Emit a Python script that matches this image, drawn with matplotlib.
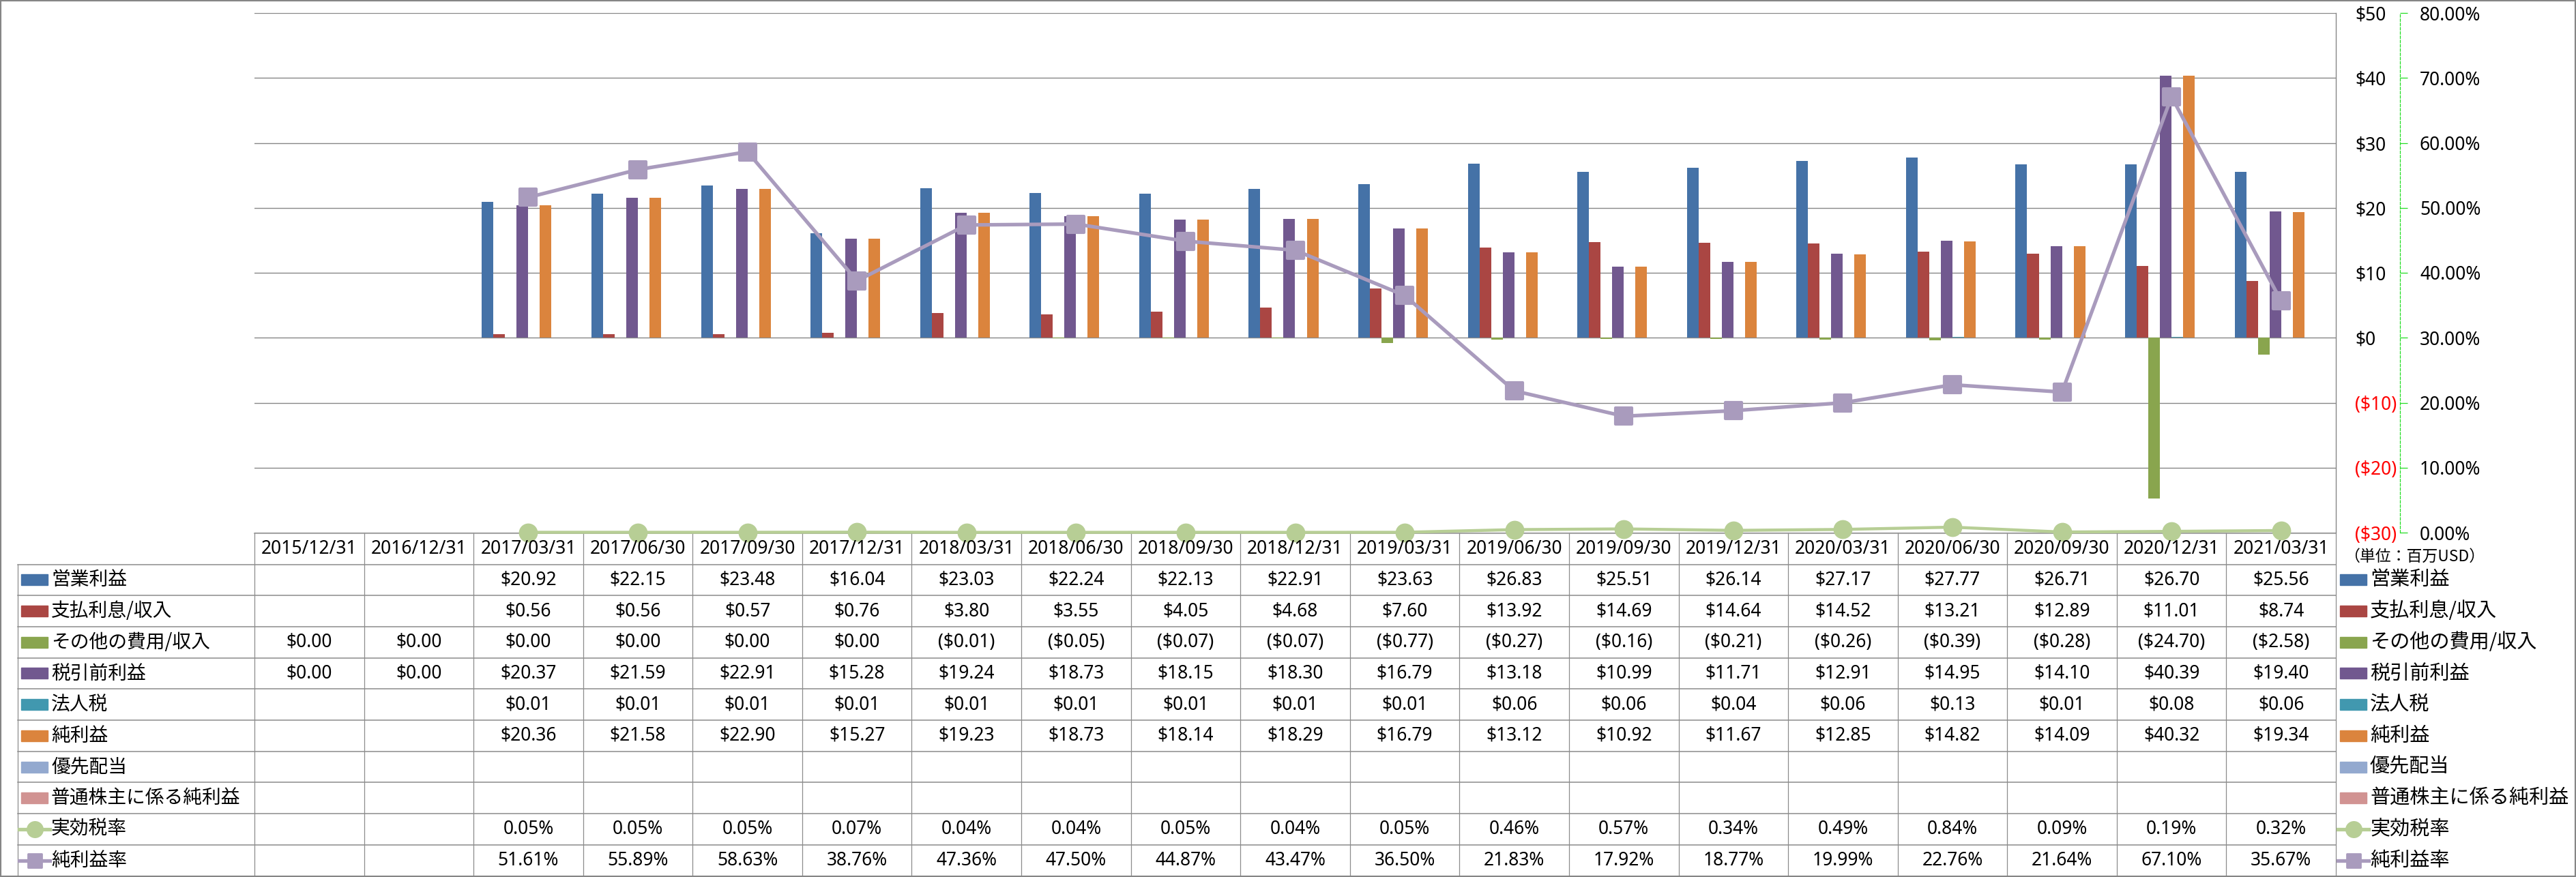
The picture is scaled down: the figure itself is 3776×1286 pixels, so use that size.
import numpy as np
import matplotlib.pyplot as plt
from matplotlib.lines import Line2D
from matplotlib.markers import MarkerStyle
from matplotlib.patches import Rectangle
from matplotlib.transforms import blended_transform_factory

plt.rcParams['font.family'] = ['Noto Sans', 'Noto Sans CJK JP', 'DejaVu Sans']
JP = ['Noto Sans CJK JP', 'DejaVu Sans']

dates = ['2015/12/31', '2016/12/31', '2017/03/31', '2017/06/30', '2017/09/30',
         '2017/12/31', '2018/03/31', '2018/06/30', '2018/09/30', '2018/12/31',
         '2019/03/31', '2019/06/30', '2019/09/30', '2019/12/31', '2020/03/31',
         '2020/06/30', '2020/09/30', '2020/12/31', '2021/03/31']

operating_income = [None, None, 20.92, 22.15, 23.48, 16.04, 23.03, 22.24, 22.13, 22.91,
                    23.63, 26.83, 25.51, 26.14, 27.17, 27.77, 26.71, 26.70, 25.56]
interest = [None, None, 0.56, 0.56, 0.57, 0.76, 3.80, 3.55, 4.05, 4.68,
            7.60, 13.92, 14.69, 14.64, 14.52, 13.21, 12.89, 11.01, 8.74]
other_expense = [0.00, 0.00, 0.00, 0.00, 0.00, 0.00, -0.01, -0.05, -0.07, -0.07,
                 -0.77, -0.27, -0.16, -0.21, -0.26, -0.39, -0.28, -24.70, -2.58]
pretax_income = [0.00, 0.00, 20.37, 21.59, 22.91, 15.28, 19.24, 18.73, 18.15, 18.30,
                 16.79, 13.18, 10.99, 11.71, 12.91, 14.95, 14.10, 40.39, 19.40]
income_tax = [None, None, 0.01, 0.01, 0.01, 0.01, 0.01, 0.01, 0.01, 0.01,
              0.01, 0.06, 0.06, 0.04, 0.06, 0.13, 0.01, 0.08, 0.06]
net_income = [None, None, 20.36, 21.58, 22.90, 15.27, 19.23, 18.73, 18.14, 18.29,
              16.79, 13.12, 10.92, 11.67, 12.85, 14.82, 14.09, 40.32, 19.34]
preferred_div = [None] * 19
net_to_common = [None] * 19
tax_rate = [None, None, 0.05, 0.05, 0.05, 0.07, 0.04, 0.04, 0.05, 0.04,
            0.05, 0.46, 0.57, 0.34, 0.49, 0.84, 0.09, 0.19, 0.32]
net_margin = [None, None, 51.61, 55.89, 58.63, 38.76, 47.36, 47.50, 44.87, 43.47,
              36.50, 21.83, 17.92, 18.77, 19.99, 22.76, 21.64, 67.10, 35.67]

bar_names = ['営業利益', '支払利息/収入', 'その他の費用/収入', '税引前利益', '法人税',
             '純利益', '優先配当', '普通株主に係る純利益']
bar_series = [operating_income, interest, other_expense, pretax_income, income_tax,
              net_income, preferred_div, net_to_common]
bar_colors = ['#4572A7', '#AA4643', '#89A54E', '#71588F', '#4198AF', '#DB843D',
              '#93A9CF', '#D19392']
line_names = ['実効税率', '純利益率']
line_series = [tax_rate, net_margin]
line_colors = ['#B7CE95', '#A99BBD']

W, H, DPI = 3776, 1286, 100


def fx(x):
    return x / W


def fy(y):
    return 1 - y / H


def arr(vals):
    return np.array([np.nan if v is None else v for v in vals], float)


def money(v):
    if v is None:
        return ''
    return f'${v:.2f}' if v >= 0 else f'(${-v:.2f})'


def pct(v):
    return '' if v is None else f'{v:.2f}%'


fig = plt.figure(figsize=(W / DPI, H / DPI), dpi=DPI)
ax = fig.add_axes([fx(373), fy(781), fx(3424) - fx(373), (781 - 19) / H])
ax2 = ax.twinx()

n = len(dates)
x = np.arange(n)
w = 0.106
for k, (vals, c) in enumerate(zip(bar_series, bar_colors)):
    ax.bar(x + (k - 3.5) * w, arr(vals), w, color=c, zorder=2)

ax.set_xlim(-0.5, n - 0.5)
ax.set_ylim(-30, 50)
ax.set_xticks([])
yt = list(range(-30, 51, 10))
ax.set_yticks(yt, [f'${v}' if v >= 0 else f'(${-v})' for v in yt])
ax.yaxis.tick_right()
ax.tick_params(axis='y', which='both', left=False, labelleft=False, right=False,
               labelright=True, length=0, pad=28 * 0.72, labelsize=19)
for tick, v in zip(ax.yaxis.get_major_ticks(), yt):
    if v < 0:
        tick.label1.set_color('red')
        tick.label2.set_color('red')
ax.grid(axis='y', color='#868686', lw=1.0)
ax.set_axisbelow(True)
for s in ['left', 'top', 'bottom']:
    ax.spines[s].set_visible(False)
ax.spines['right'].set_color('#868686')
ax.spines['right'].set_linewidth(1.0)

ax2.set_ylim(0, 80)
pt = list(range(0, 81, 10))
ax2.set_yticks(pt, [f'{v:.2f}%' for v in pt])
for s in ['left', 'top', 'bottom']:
    ax2.spines[s].set_visible(False)
ax2.spines['right'].set_position(('outward', 94 * 0.72))
ax2.spines['right'].set_color('#22DD22')
ax2.spines['right'].set_linestyle((0, (3, 2)))
ax2.spines['right'].set_linewidth(0.9)
ax2.tick_params(axis='y', direction='out', length=11 * 0.72, width=0.9,
                color='#22DD22', pad=18 * 0.72, labelsize=19)

ax2.plot(x, arr(tax_rate), color=line_colors[0], lw=3.2, marker='o', ms=18.5,
         mew=1.5, clip_on=False, zorder=3)
sq = MarkerStyle('s', joinstyle='round')
ax2.plot(x, arr(net_margin), color=line_colors[1], lw=3.8, marker=sq, ms=17,
         mew=3, clip_on=False, zorder=4)

# data table under the plot
trans = blended_transform_factory(ax.transData, fig.transFigure)
right = ax.get_position().x1
head_top, head_bot, row_h = 782, 827.5, 45.7
n_rows = len(bar_names) + len(line_names)
grid_c = '#8C8C8C'

fig.add_artist(Line2D([-0.5, n - 0.5], [fy(head_top)] * 2, transform=trans,
                      color=grid_c, lw=1.1, zorder=-1))
for r in range(n_rows + 1):
    yy = fy(head_bot + r * row_h)
    fig.add_artist(Line2D([fx(25.7), right], [yy, yy], transform=fig.transFigure,
                          color=grid_c, lw=1.1, zorder=-1))
for b in np.arange(-0.5, n):
    fig.add_artist(Line2D([b, b], [fy(head_top), fy(head_bot + n_rows * row_h)],
                          transform=trans, color=grid_c, lw=0.9, zorder=-1))
fig.add_artist(Line2D([fx(25.7)] * 2, [fy(head_bot), fy(head_bot + n_rows * row_h)],
                      transform=fig.transFigure, color=grid_c, lw=0.9, zorder=-1))

for i, d in enumerate(dates):
    fig.text(i, fy((head_top + head_bot) / 2), d, transform=trans, ha='center',
             va='center', fontsize=19)

row_texts = [[money(v) for v in s] for s in bar_series] + \
            [[pct(v) for v in s] for s in line_series]
for r, cells in enumerate(row_texts):
    yc = head_bot + (r + 0.5) * row_h
    for i, t in enumerate(cells):
        if t:
            fig.text(i, fy(yc), t, transform=trans, ha='center', va='center',
                     fontsize=19)

# legend keys, left column and right side
names = bar_names + line_names
for x0, fs in ((31, 20), (3430, 21)):
    for r, name in enumerate(names):
        yc = head_bot + (r + 0.5) * row_h
        if r < len(bar_names):
            fig.add_artist(Rectangle((fx(x0), fy(yc + 8)), 39 / W, 16 / H,
                                     transform=fig.transFigure, color=bar_colors[r]))
        else:
            j = r - len(bar_names)
            mk = 'o' if j == 0 else sq
            fig.add_artist(Line2D([fx(x0 - 3), fx(x0 + 42)], [fy(yc)] * 2,
                                  transform=fig.transFigure, color=line_colors[j],
                                  lw=3.8))
            fig.add_artist(Line2D([fx(x0 + 19.5)], [fy(yc)], transform=fig.transFigure,
                                  color=line_colors[j], marker=mk,
                                  ms=16 if j == 0 else 14, mew=2))
        fig.text(fx(x0 + 44), fy(yc), name, family=JP, fontsize=fs, va='center')

fig.text(fx(3436), fy(816), '（単位：百万USD）', family=JP, fontsize=16.5, va='center')

fig.add_artist(Rectangle((0, 0), 1, 1, transform=fig.transFigure, fill=False,
                         ec='#868686', lw=3))

fig.savefig('out.png', dpi=DPI)
